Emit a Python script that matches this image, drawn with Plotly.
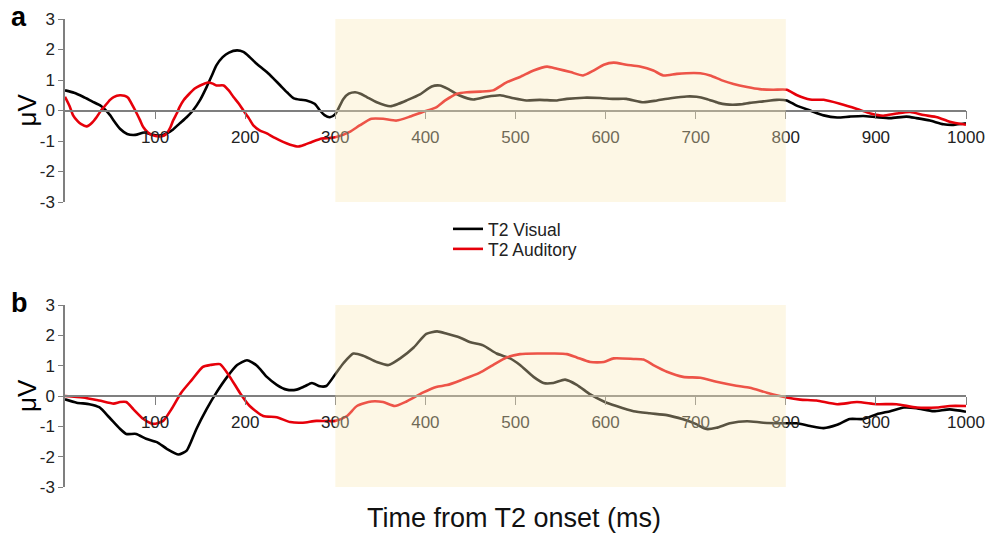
import plotly.graph_objects as go

# ---------------- data ----------------
a_vis_t = [0, 10, 20, 30, 40, 50, 54, 61, 69, 78, 88, 95, 105, 113, 120, 127, 135, 142, 150, 157, 163, 168, 175, 182, 191, 198, 205, 212, 224, 232, 239, 247, 254, 262, 268, 277, 283, 288, 294, 300, 309, 315, 322, 328, 335, 346, 361, 370, 379, 394, 407, 416, 425, 438, 453, 468, 483, 498, 512, 527, 546, 557, 576, 594, 609, 623, 642, 657, 672, 690, 701, 712, 725, 734, 749, 760, 775, 790, 801, 812, 827, 842, 857, 871, 886, 901, 916, 934, 945, 960, 975, 986, 1000]
a_vis_v = [0.66, 0.58, 0.45, 0.3, 0.15, -0.15, -0.33, -0.6, -0.77, -0.8, -0.72, -0.78, -0.82, -0.75, -0.62, -0.43, -0.22, 0.0, 0.35, 0.76, 1.15, 1.48, 1.75, 1.9, 1.97, 1.92, 1.75, 1.55, 1.26, 1.03, 0.82, 0.58, 0.4, 0.35, 0.33, 0.22, 0.0, -0.15, -0.22, -0.12, 0.38, 0.55, 0.6, 0.55, 0.44, 0.27, 0.14, 0.22, 0.33, 0.53, 0.79, 0.82, 0.71, 0.49, 0.36, 0.45, 0.5, 0.4, 0.33, 0.35, 0.33, 0.38, 0.42, 0.41, 0.38, 0.38, 0.27, 0.33, 0.4, 0.46, 0.45, 0.38, 0.25, 0.2, 0.2, 0.25, 0.3, 0.35, 0.33, 0.16, 0.0, -0.16, -0.23, -0.2, -0.18, -0.22, -0.25, -0.2, -0.25, -0.33, -0.45, -0.47, -0.42]

a_aud_t = [0, 5, 9, 14, 18, 24, 30, 35, 40, 44, 50, 54, 61, 66, 70, 74, 78, 83, 87, 92, 96, 105, 110, 113, 117, 120, 124, 127, 132, 138, 144, 150, 159, 164, 168, 176, 182, 187, 193, 198, 204, 209, 216, 224, 233, 242, 250, 259, 266, 274, 285, 293, 300, 316, 327, 340, 353, 368, 383, 397, 412, 422, 435, 446, 461, 475, 490, 505, 520, 535, 546, 561, 575, 586, 598, 609, 623, 638, 653, 664, 679, 698, 705, 716, 730, 742, 757, 771, 786, 801, 812, 827, 842, 860, 879, 894, 908, 923, 938, 953, 968, 982, 1000]
a_aud_v = [0.45, 0.15, -0.16, -0.35, -0.45, -0.52, -0.4, -0.22, 0.0, 0.14, 0.35, 0.44, 0.5, 0.48, 0.42, 0.22, 0.0, -0.3, -0.55, -0.72, -0.8, -0.85, -0.82, -0.75, -0.55, -0.33, -0.1, 0.1, 0.35, 0.55, 0.72, 0.82, 0.92, 0.88, 0.82, 0.82, 0.65, 0.44, 0.22, 0.0, -0.25, -0.49, -0.65, -0.75, -0.9, -1.03, -1.12, -1.18, -1.12, -1.03, -0.92, -0.9, -0.88, -0.7, -0.49, -0.27, -0.27, -0.33, -0.2, -0.05, 0.1, 0.33, 0.55, 0.6, 0.62, 0.66, 0.92, 1.1, 1.31, 1.44, 1.37, 1.26, 1.15, 1.3, 1.5, 1.57, 1.5, 1.44, 1.31, 1.15, 1.2, 1.23, 1.22, 1.15, 0.98, 0.87, 0.77, 0.7, 0.68, 0.68, 0.51, 0.36, 0.35, 0.22, 0.05, -0.1, -0.17, -0.1, -0.05, -0.15, -0.22, -0.37, -0.47]

b_vis_t = [0, 13, 27, 38, 49, 61, 68, 79, 90, 102, 113, 126, 135, 140, 146, 157, 168, 180, 191, 202, 213, 224, 235, 246, 257, 266, 274, 283, 290, 300, 309, 320, 331, 346, 359, 372, 387, 401, 413, 424, 438, 450, 464, 479, 494, 505, 520, 531, 542, 555, 568, 583, 598, 612, 631, 649, 668, 686, 700, 712, 723, 738, 757, 775, 797, 812, 827, 842, 857, 871, 886, 901, 916, 931, 945, 964, 982, 1000]
b_vis_v = [-0.11, -0.22, -0.27, -0.37, -0.7, -1.08, -1.25, -1.25, -1.41, -1.52, -1.74, -1.93, -1.8, -1.5, -1.08, -0.44, 0.11, 0.63, 1.02, 1.18, 1.0, 0.63, 0.37, 0.21, 0.21, 0.32, 0.43, 0.32, 0.33, 0.72, 1.08, 1.4, 1.33, 1.12, 1.02, 1.24, 1.6, 2.05, 2.13, 2.05, 1.93, 1.77, 1.67, 1.4, 1.24, 1.02, 0.63, 0.43, 0.43, 0.54, 0.37, 0.05, -0.18, -0.33, -0.5, -0.57, -0.63, -0.77, -0.92, -1.09, -1.05, -0.9, -0.83, -0.88, -0.9, -0.9, -0.99, -1.06, -0.95, -0.76, -0.76, -0.6, -0.5, -0.38, -0.4, -0.5, -0.44, -0.52]

b_aud_t = [0, 20, 38, 54, 61, 68, 76, 87, 98, 109, 118, 129, 141, 153, 161, 172, 183, 194, 205, 220, 235, 250, 264, 279, 300, 313, 324, 340, 353, 366, 379, 397, 412, 424, 441, 460, 475, 490, 505, 527, 542, 557, 568, 583, 598, 609, 631, 642, 653, 668, 686, 705, 723, 745, 760, 779, 801, 816, 834, 857, 879, 901, 923, 945, 968, 982, 1000]
b_aud_v = [0.0, -0.05, -0.15, -0.25, -0.2, -0.2, -0.44, -0.76, -0.92, -0.82, -0.44, 0.11, 0.54, 0.96, 1.02, 1.05, 0.63, 0.11, -0.33, -0.66, -0.7, -0.86, -0.88, -0.82, -0.82, -0.66, -0.33, -0.18, -0.2, -0.33, -0.18, 0.11, 0.3, 0.36, 0.54, 0.76, 1.02, 1.27, 1.38, 1.4, 1.4, 1.38, 1.27, 1.12, 1.12, 1.24, 1.22, 1.2, 1.02, 0.8, 0.63, 0.6, 0.47, 0.34, 0.27, 0.11, -0.05, -0.12, -0.15, -0.27, -0.2, -0.27, -0.27, -0.38, -0.38, -0.33, -0.33]

x_ticks = [100, 200, 300, 400, 500, 600, 700, 800, 900, 1000]
y_ticks = [-3, -2, -1, 0, 1, 2, 3]
window = [300, 800]
series_names = ["T2 Visual", "T2 Auditory"]
colors = ["#000000", "#e6000a"]

# ---------------- layout ----------------
FONT = "Liberation Sans, Arial, sans-serif"
W, H = 987, 534
ml, mr, mt, mb = 65, 21, 19, 47
pw = W - ml - mr
ph = H - mt - mb
dom_a = [(H - mb - 202) / ph, 1.0]
dom_b = [0.0, (H - mb - 305) / ph]

fig = go.Figure()
for (tv, vv, ta, va, xa, ya, show) in [
    (a_vis_t, a_vis_v, a_aud_t, a_aud_v, "x", "y", True),
    (b_vis_t, b_vis_v, b_aud_t, b_aud_v, "x2", "y2", False),
]:
    fig.add_trace(go.Scatter(x=tv, y=vv, mode="lines", name=series_names[0],
                             line=dict(color=colors[0], width=2.6, shape="spline", smoothing=0.6),
                             xaxis=xa, yaxis=ya, showlegend=show, legend="legend"))
    fig.add_trace(go.Scatter(x=ta, y=va, mode="lines", name=series_names[1],
                             line=dict(color=colors[1], width=2.6, shape="spline", smoothing=0.6),
                             xaxis=xa, yaxis=ya, showlegend=show, legend="legend2"))
    fig.add_shape(type="rect", xref=xa, yref=ya, x0=window[0], x1=window[1],
                  y0=y_ticks[0], y1=y_ticks[-1], layer="above", line_width=0,
                  fillcolor="rgba(249,232,184,0.36)")

def xax(dom):
    return dict(domain=[0, 1], range=[0, 1000], anchor="free", position=(dom[0] + dom[1]) / 2,
                tickmode="array", tickvals=x_ticks, ticktext=[str(v) for v in x_ticks],
                showline=True, linecolor="#7f7f7f", linewidth=1.5,
                ticks="outside", ticklen=8, tickcolor="#7f7f7f", tickwidth=1.2,
                ticklabelstandoff=3, automargin=False,
                showgrid=False, zeroline=False,
                tickfont=dict(family=FONT, size=17, color="#222"))

def yax(dom, anchor):
    return dict(domain=dom, range=[-3, 3], anchor=anchor,
                tickmode="array", tickvals=y_ticks, ticktext=[str(v) for v in y_ticks],
                showline=True, linecolor="#7f7f7f", linewidth=1.5,
                ticks="outside", ticklen=5, tickcolor="#7f7f7f", automargin=False,
                showgrid=False, zeroline=False,
                tickfont=dict(family=FONT, size=17, color="#222"))

annotations = []
for lab, dom in [("a", dom_a), ("b", dom_b)]:
    annotations.append(dict(text="<b>" + lab + "</b>", xref="paper", yref="paper",
                            x=-(ml - 19) / pw, y=dom[1] + 2 / ph,
                            xanchor="center", yanchor="middle", showarrow=False,
                            font=dict(family=FONT, size=27, color="#000")))
    annotations.append(dict(text="μV", xref="paper", yref="paper",
                            x=-(ml - 27) / pw, y=(dom[0] + dom[1]) / 2,
                            xanchor="center", yanchor="middle", textangle=-90, showarrow=False,
                            font=dict(family=FONT, size=26, color="#000")))
annotations.append(dict(text="Time from T2 onset (ms)", xref="paper", yref="paper",
                        x=(514 - ml) / pw, y=-(518 - (H - mb)) / ph,
                        xanchor="center", yanchor="middle", showarrow=False,
                        font=dict(family=FONT, size=27, color="#111")))

leg_common = dict(xanchor="left", yanchor="top", bgcolor="rgba(0,0,0,0)",
                  font=dict(family=FONT, size=17.5, color="#222"), itemwidth=30)

fig.update_layout(
    width=W, height=H, autosize=False,
    margin=dict(l=ml, r=mr, t=mt, b=mb, pad=0, autoexpand=False),
    paper_bgcolor="white", plot_bgcolor="white",
    xaxis=xax(dom_a), yaxis=yax(dom_a, "x"),
    xaxis2=xax(dom_b), yaxis2=yax(dom_b, "x2"),
    annotations=annotations,
    showlegend=True,
    legend=dict(x=(448 - ml) / pw, y=(H - mb - 211) / ph, **leg_common),
    legend2=dict(x=(448 - ml) / pw, y=(H - mb - 231) / ph, **leg_common),
)

fig.write_html("out.html", config={"displayModeBar": False},
               post_script="document.body.style.margin='0px';document.body.style.overflow='hidden';")
